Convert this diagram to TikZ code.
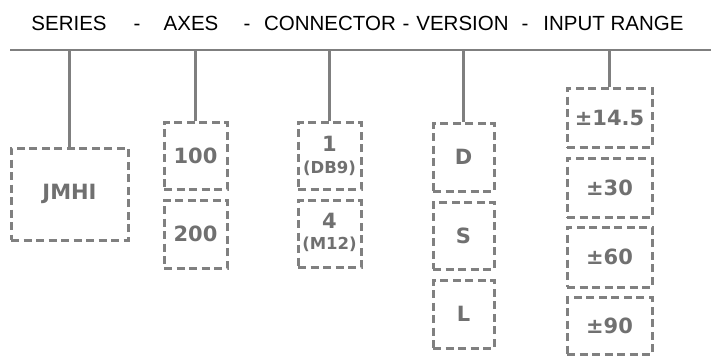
\documentclass[tikz,border=0pt]{standalone}
\usepackage{fontspec}
\setmainfont{Liberation Sans}
\newfontfamily\labfont{DejaVu Sans}
\definecolor{linegray}{HTML}{7F7F7F}
\definecolor{boxgray}{HTML}{808080}
\definecolor{textgray}{HTML}{707070}
\newcommand{\bigfnt}{\labfont\bfseries\fontsize{21}{21}\selectfont}
\tikzset{
  hdr/.style={anchor=base, inner sep=0pt, text=black, font=\fontsize{20.5}{20.5}\selectfont},
  optbox/.style={draw=boxgray, line width=3pt, dash pattern=on 8pt off 4.5pt,
    inner sep=0pt, text=textgray, align=center, font=\bigfnt},
  small/.style={font=\labfont\bfseries\fontsize{16.5}{16.5}\selectfont},
  conn/.style={draw=linegray, line width=2.3pt}
}
\begin{document}
\begin{tikzpicture}[x=1pt,y=-1pt]
\useasboundingbox (0,0) rectangle (711,356);
% header
\node[hdr] (hs) at (69,30) {SERIES};
\node[hdr] (hd1) at (137,30) {-};
\node[hdr] (ha) at (191,30) {AXES};
\node[hdr] (hd2) at (247,30) {-};
\node[hdr] (hc) at (330,30) {CONNECTOR};
\node[hdr] (hd3) at (406,30) {-};
\node[hdr] (hv) at (462.5,30) {VERSION};
\node[hdr] (hd4) at (525,30) {-};
\node[hdr] (hi) at (613.5,30) {INPUT RANGE};
% bus
\coordinate (busL) at (10,50);
\coordinate (busR) at (711,50);
\draw[conn] (busL) -- (busR);
% boxes
\node[optbox, minimum width=117pt, minimum height=92pt] (jmhi) at (69.5,194) {JMHI};
\node[optbox, minimum width=63pt, minimum height=67pt] (a100) at (195.5,155.5) {100};
\node[optbox, minimum width=63pt, minimum height=68pt] (a200) at (195.5,234) {200};
\node[optbox, minimum width=63pt, minimum height=67pt] (c1) at (329.5,155.5) {};
\node[text=textgray, font=\bigfnt, inner sep=0pt] (c1a) at (329.5,144) {1};
\node[text=textgray, small, inner sep=0pt] (c1b) at (329.5,168) {(DB9)};
\node[optbox, minimum width=63pt, minimum height=67pt] (c4) at (329.5,234) {};
\node[text=textgray, font=\bigfnt, inner sep=0pt] (c4a) at (329.5,221) {4};
\node[text=textgray, small, inner sep=0pt] (c4b) at (329.5,244) {(M12)};
\node[optbox, minimum width=61pt, minimum height=68pt] (vd) at (463.5,157) {D};
\node[optbox, minimum width=61pt, minimum height=67pt] (vs) at (463.5,235.5) {S};
\node[optbox, minimum width=61pt, minimum height=68pt] (vl) at (463.5,314) {L};
\node[optbox, minimum width=85pt, minimum height=59pt] (r1) at (609.5,117.5) {±14.5};
\node[optbox, minimum width=85pt, minimum height=59pt] (r2) at (609.5,187.5) {±30};
\node[optbox, minimum width=85pt, minimum height=60pt] (r3) at (609.5,257) {±60};
\node[optbox, minimum width=85pt, minimum height=57pt] (r4) at (609.5,326) {±90};
% connectors
\draw[conn] (jmhi.north) -- (jmhi.north |- busL);
\draw[conn] (a100.north) -- (a100.north |- busL);
\draw[conn] (c1.north) -- (c1.north |- busL);
\draw[conn] (vd.north) -- (vd.north |- busL);
\draw[conn] (r1.north) -- (r1.north |- busL);
\end{tikzpicture}
\end{document}
